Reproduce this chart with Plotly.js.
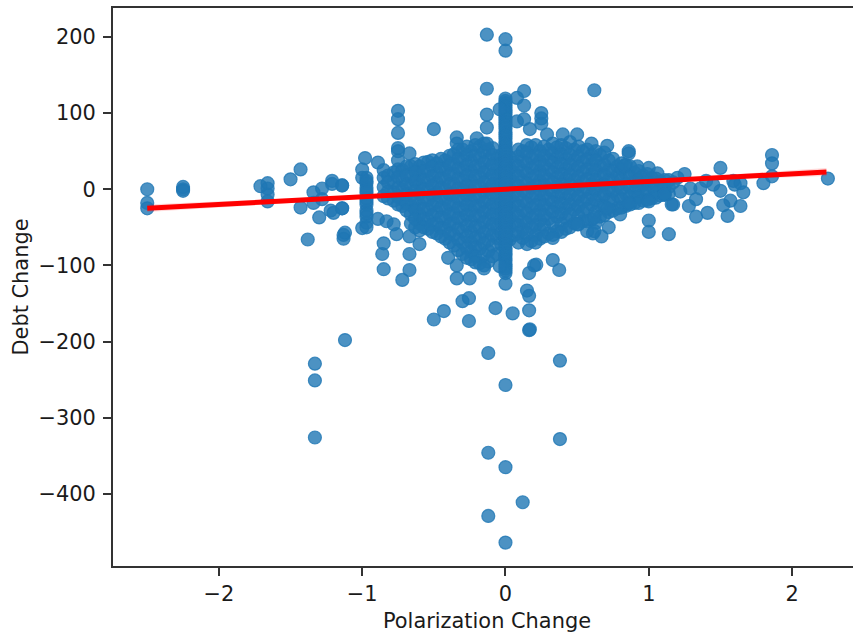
<!DOCTYPE html>
<html><head><meta charset="utf-8">
<script src="https://cdn.plot.ly/plotly-3.0.1.min.js"></script>
<style>html,body{margin:0;padding:0;background:#fff;overflow:hidden}</style>
</head><body><div id="chart"></div>
<script>
// Isolated outliers, top and bottom of the cloud
const outlierX = [-0.13,0,0,-0.13,0.62,-1.33,-1.33,-1.33,-1.12,-0.12,0.38,0,0.38,-0.12,0,0.12,-0.12,0,
  -0.5,-0.43,-0.255,-0.3,-0.255,-0.07,0.05,0.165,0.165,0.17,0.165,0.15,0,0.33,0.375,0.165,0.2,0.215];
const outlierY = [203,197,182,132,130,-229,-251,-326,-198,-215,-225,-257,-328,-346,-365,-411,-429,-464,
  -171,-160,-173,-147,-143,-156,-163,-159,-185,-184,-140,-133,-124,-93,-106,-110,-100,-99];
// Left wing
const leftX = [-2.5,-2.5,-2.5,-2.25,-2.25,-2.25,-1.71,-1.66,-1.66,-1.66,-1.66,-1.5,-1.43,-1.43,-1.38,-1.34,-1.34,-1.3,-1.28,-1.28,
  -1.21,-1.21,-1.14,-1.22,-1.2,-1.14,-1.13,-1.13,-1.12,-1.14,-1,-1,-1,-0.98,-0.97,-0.97,-0.97,-0.97,-0.97,-0.97,-0.97,-0.97,-0.97,-0.97,-0.97,-0.97,-0.97,-0.97];
const leftY = [0,-18,-25,0,-2,3,4,8,1,-16,-7,13,26,-24,-66,-4,-18,-37,1,-13,
  11,7,5,-28,-31,-25,-60,-65,-57,-25,26,15,-51,41,15,8,2,-5,-12,-20,-28,-36,-44,-50,11,-2,-16,-32];
// Upper and lower stragglers beside the central mass
const upperX = [-0.13,-0.13,-0.04,0.08,0.13,0.13,0.08,0.13,0.25,0.25,0.25,-0.5,-0.75,-0.75,-0.75,0.17,0.29,-0.34,-0.34,-0.2,-0.13,
  0.4,0.5,0.6,0.71,0.86,0.86,-0.67,-0.75,-0.75,-0.75,-0.89,-0.85,-1.14,0.92,1,1.06,0.83];
const upperY = [98,81,105,120,129,110,89,92,100,93,86,79,103,92,74,79,72,68,60,67,60,
  72,72,60,57,50,47,47,54,50,38,35,25,5,30,28,21,31];
const lowerX = [-0.72,-0.67,-0.67,-0.85,-0.86,-0.85,-0.76,-0.6,-0.6,-0.67,-0.4,-0.34,-0.25,-0.15,-0.04,-0.34,-0.89,-0.83,-0.78,
  0.72,0.67,0.61,0.57,0.5,0.33,0.62,0.62,0.71,0.8,0.86,1,1,1.14,1.17,1,1.11];
const lowerY = [-119,-106,-85,-105,-85,-71,-59,-72,-54,-62,-90,-117,-117,-104,-101,-100,-39,-42,-46,
  -50,-62,-58,-55,-46,-64,-37,-55,-25,-33,-18,-41,-56,-59,-20,-16,-7];
// Far right wing
const rightX = [2.25,1.86,1.86,1.86,1.8,1.5,1.59,1.64,1.66,1.5,1.57,1.52,1.64,1.55,1.41,1.33,1.28,1.33,1.4,1.36,1.25,1.2,1.16,1.11,1.29,1.22,1.17,1.45,1.6];
const rightY = [14,45,34,17,8,28,11,8,-4,-2,-15,-21,-22,-35,-31,-36,-22,-13,11,1,20,15,-20,-7,1,-3,9,6,6];
// Near-zero polarization change: the tall spine
const spineY = [119,116,113,110,107,104,101,98,95,92,88,85,82,79,75,72,69,66,62,59,56,52,49,46,42,38,35,32,28,24,21,17,14,10,7,3,0,-3,-7,-10,-14,-17,-21,-24,-28,-31,-35,-38,-42,-45,-49,-52,-56,-59,-63,-66,-70,-73,-77,-80,-84,-87,-91,-94,-98,-101,-104,-107,-110];
// Central mass, read as columns
const coreX = [-0.85,-0.78,-0.72,-0.66,-0.6,-0.54,-0.48,-0.42,-0.36,-0.3,-0.24,-0.18,-0.12,-0.06,0.06,0.12,0.18,0.24,0.3,0.36,0.42,0.48,0.54,0.6,0.66,0.72,0.78,0.84,0.9,0.96,1.02,1.08,1.14];
const coreY = [
  [15,3,-9],
  [22,9,-4,-15],
  [25,12,0,-13,-22],
  [30,17,5,-8,-21,-33,-45],
  [30,18,6,-6,-20,-33,-45],
  [36,24,11,-1,-14,-27,-40,-52],
  [34,22,9,-4,-17,-30,-45,-58],
  [38,26,13,0,-13,-26,-39,-52,-65],
  [46,33,20,7,-6,-19,-32,-45,-60,-74],
  [52,38,25,12,-1,-14,-27,-40,-55,-70,-85],
  [50,37,24,11,-2,-15,-28,-42,-56,-70,-82,-92],
  [56,42,29,16,3,-10,-23,-36,-50,-64,-78,-97],
  [52,39,26,13,0,-13,-26,-39,-53,-67,-81,-95],
  [40,27,14,1,-12,-25,-38,-51,-64,-85],
  [35,22,9,-4,-17,-30,-43,-60],
  [50,37,24,11,-2,-15,-28,-41,-53,-64],
  [55,41,28,15,2,-11,-24,-37,-50,-68],
  [50,37,24,11,-2,-15,-28,-41,-53,-65],
  [52,39,26,13,0,-13,-26,-39,-58],
  [55,42,29,16,3,-10,-23,-36,-55],
  [54,40,27,14,1,-12,-25,-38,-52],
  [52,38,25,12,-1,-14,-27,-45],
  [50,36,23,10,-3,-16,-29,-42],
  [45,32,19,6,-7,-20,-40],
  [45,31,18,5,-8,-21,-36],
  [38,25,12,-1,-14,-30],
  [30,18,5,-8,-25],
  [32,20,7,-6,-22],
  [22,10,-3,-18],
  [18,6,-5,-15],
  [15,4,-12],
  [10,1,-8],
  [12,3,-6]
];
// Second reading of the central mass, between the first columns
const fillX = [-0.82,-0.75,-0.69,-0.63,-0.57,-0.51,-0.45,-0.39,-0.33,-0.27,-0.21,-0.15,-0.09,-0.03,0.03,0.09,0.15,0.21,0.27,0.33,0.39,0.45,0.51,0.57,0.63,0.69,0.75,0.81,0.87,0.93,0.99,1.05,1.11];
const fillY = [
  [18,9,-3,-12],
  [26,16,2,-10,-20],
  [30,18,6,-7,-19,-28],
  [33,23,11,-2,-15,-27,-39,-50],
  [35,24,12,0,-13,-26,-39,-50],
  [38,30,17,5,-8,-21,-34,-46,-56],
  [40,28,15,2,-11,-24,-37,-51,-62],
  [44,32,19,6,-7,-20,-33,-46,-58,-70],
  [52,40,27,14,1,-12,-25,-38,-52,-66,-80],
  [56,45,31,18,5,-8,-21,-34,-48,-62,-77,-90],
  [58,44,30,17,4,-9,-22,-35,-49,-63,-76,-88,-96],
  [60,49,35,22,9,-4,-17,-30,-43,-57,-71,-86,-100],
  [54,45,32,19,6,-7,-20,-33,-46,-60,-74,-88],
  [45,33,20,7,-6,-19,-32,-45,-58,-72],
  [42,28,15,2,-11,-24,-37,-50,-66],
  [52,43,30,17,4,-9,-22,-35,-47,-58,-70],
  [58,48,34,21,8,-5,-18,-31,-44,-58,-72],
  [58,44,31,18,5,-8,-21,-34,-47,-60,-70],
  [56,44,31,18,5,-8,-21,-34,-47,-62],
  [60,47,35,22,9,-4,-17,-30,-45,-60],
  [58,46,33,20,7,-6,-19,-32,-46,-56],
  [62,45,32,19,6,-7,-20,-33,-50],
  [56,43,30,17,4,-9,-22,-35,-46],
  [52,39,26,13,0,-13,-26,-42],
  [50,38,25,12,-1,-14,-30,-44],
  [48,32,19,6,-7,-22,-34],
  [40,24,11,-2,-15,-28],
  [34,26,13,0,-13,-24],
  [30,16,3,-10,-20],
  [24,12,1,-10,-18],
  [20,10,-3,-14],
  [14,5,-4,-11],
  [12,2,-7]
];
// Fitted line and its narrow confidence band
const fitX = [-2.5,2.24];
const fitY = [-25,22.7];
const bandX = [-2.5,-1,0,1,2.24,2.24,1,0,-1,-2.5];
const bandY = [-20,-8,2,12,28,17.5,9,-1,-12,-30];

const tickValsX = [-2,-1,0,1,2];
const tickTextX = ['\u22122','\u22121','0','1','2'];
const tickValsY = [200,100,0,-100,-200,-300,-400];
const tickTextY = ['200','100','0','\u2212100','\u2212200','\u2212300','\u2212400'];

const flatX = (xs,ys)=>xs.flatMap((x,i)=>ys[i].map(()=>x));
const spineX = spineY.map(()=>0);
const allX = [].concat(flatX(coreX,coreY),flatX(fillX,fillY),spineX,upperX,lowerX,leftX,rightX,outlierX);
const allY = [].concat(coreY.flat(),fillY.flat(),spineY,upperY,lowerY,leftY,rightY,outlierY);

const FONT = 'DejaVu Sans';
const BLUE = 'rgba(31,119,180,0.8)';
const data = [
  {type:'scatter',mode:'markers',x:allX,y:allY,hoverinfo:'skip',
   marker:{size:13,color:BLUE,line:{color:BLUE,width:1.2}}},
  {type:'scatter',mode:'lines',x:bandX,y:bandY,fill:'toself',fillcolor:'rgba(255,0,0,0.15)',line:{width:0},hoverinfo:'skip'},
  {type:'scatter',mode:'lines',x:fitX,y:fitY,line:{color:'#ff0000',width:5},hoverinfo:'skip'}
];
const layout = {
  width:861,height:635,showlegend:false,paper_bgcolor:'#fff',plot_bgcolor:'#fff',
  margin:{l:113,r:0,t:8,b:69,pad:0},
  font:{family:FONT,size:20.9,color:'#1a1a1a'},
  xaxis:{range:[-2.739,2.481],tickmode:'array',tickvals:tickValsX,ticktext:tickTextX,
    showgrid:false,zeroline:false,showline:true,mirror:true,linecolor:'#333',linewidth:2,
    ticks:'outside',ticklen:8,tickwidth:2,tickcolor:'#333',
    title:{text:'Polarization Change',standoff:8,font:{family:FONT,size:20.9,color:'#1a1a1a'}}},
  yaxis:{range:[-494.7,238],tickmode:'array',tickvals:tickValsY,ticktext:tickTextY,
    showgrid:false,zeroline:false,showline:true,linecolor:'#333',linewidth:2,
    ticks:'outside',ticklen:8,tickwidth:2,tickcolor:'#333',ticklabelstandoff:3,
    title:{text:'Debt Change',standoff:4,font:{family:FONT,size:20.9,color:'#1a1a1a'}}}
};
Plotly.newPlot('chart',data,layout,{displayModeBar:false,staticPlot:true});
</script></body></html>
